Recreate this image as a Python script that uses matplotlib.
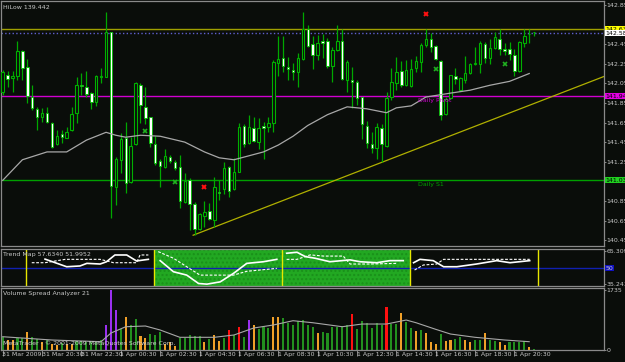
import numpy as np
import matplotlib.pyplot as plt
from matplotlib.transforms import blended_transform_factory

plt.rcParams['font.family'] = ['Liberation Sans Narrow', 'DejaVu Sans']

# ---- data (15 min candles, 31 Mar 2009 18:30 onwards) ----
opens = [141.96, 142.14, 142.10, 142.12, 142.38, 142.22, 141.91, 141.79, 141.71, 141.75,
         141.65, 141.43, 141.53, 141.49, 141.57, 141.75, 142.03, 142.01, 141.95, 141.86,
         142.11, 142.11, 142.57, 140.99, 141.27, 141.49, 141.04, 141.43, 142.03, 141.81,
         141.71, 141.43, 141.26, 141.20, 141.30, 141.25, 141.20, 140.84, 141.06, 140.82,
         140.56, 140.70, 140.75, 140.66, 140.94, 140.97, 141.20, 140.97, 141.15, 141.61,
         141.44, 141.59, 141.45, 141.61, 141.60, 141.65, 142.26, 142.31, 142.22, 142.19,
         142.17, 142.30, 142.60, 142.45, 142.34, 142.48, 142.48, 142.23, 142.39, 142.48,
         142.08, 142.08, 142.06, 141.91, 141.61, 141.43, 141.39, 141.59, 141.41, 141.91,
         142.05, 142.18, 142.03, 142.02, 142.21, 142.27, 142.44, 142.50, 142.43, 142.28,
         141.74, 141.90, 142.12, 141.98, 142.08, 142.16, 142.25, 142.25, 142.45, 142.31,
         142.41, 142.50, 142.40, 142.40, 142.34, 142.18, 142.46, 142.55, 142.57]
highs = [142.19, 142.18, 142.18, 142.48, 142.39, 142.30, 142.03, 141.81, 141.80, 141.81,
         141.66, 141.57, 141.57, 141.60, 141.81, 142.11, 142.16, 142.18, 141.96, 142.13,
         142.21, 142.78, 142.57, 141.30, 141.54, 141.66, 141.50, 142.06, 142.05, 142.01,
         141.71, 141.51, 141.28, 141.38, 141.32, 141.27, 141.32, 141.13, 141.08, 140.84,
         140.73, 140.85, 140.83, 141.09, 141.06, 141.25, 141.21, 141.29, 141.65, 141.63,
         141.73, 141.71, 141.70, 141.66, 141.71, 142.29, 142.53, 142.53, 142.32, 142.26,
         142.36, 142.78, 142.65, 142.53, 142.54, 142.55, 142.51, 142.42, 142.65, 142.60,
         142.29, 142.22, 142.08, 141.91, 141.67, 141.55, 141.65, 141.63, 141.96, 142.21,
         142.32, 142.28, 142.29, 142.30, 142.33, 142.46, 142.60, 142.56, 142.44, 142.29,
         141.91, 142.14, 142.21, 142.11, 142.33, 142.26, 142.42, 142.48, 142.47, 142.50,
         142.57, 142.60, 142.46, 142.47, 142.40, 142.48, 142.60, 142.60, 142.57]
lows = [141.93, 142.01, 141.96, 142.08, 142.08, 141.85, 141.78, 141.57, 141.66, 141.65,
        141.39, 141.42, 141.44, 141.49, 141.56, 141.65, 141.93, 141.91, 141.79, 141.82,
        142.05, 142.11, 140.68, 140.81, 141.13, 140.93, 141.03, 141.42, 141.65, 141.64,
        141.40, 141.22, 140.99, 141.19, 141.24, 141.17, 140.78, 140.83, 140.55, 140.50,
        140.55, 140.58, 140.66, 140.58, 140.86, 140.92, 140.89, 140.96, 141.15, 141.40,
        141.43, 141.45, 141.38, 141.28, 141.55, 141.55, 142.12, 142.17, 142.08, 142.08,
        142.01, 142.29, 142.42, 142.20, 142.29, 142.31, 142.21, 142.06, 142.38, 142.08,
        141.96, 141.80, 141.83, 141.48, 141.39, 141.34, 141.28, 141.25, 141.40, 141.88,
        141.98, 142.01, 142.02, 142.01, 142.17, 142.17, 142.42, 142.37, 142.29, 141.68,
        141.73, 141.89, 142.04, 141.97, 142.05, 142.15, 142.24, 142.16, 142.26, 142.25,
        142.40, 142.34, 142.34, 142.29, 142.12, 142.17, 142.42, 142.46, 142.53]
closes = [142.17, 142.09, 142.12, 142.38, 142.21, 141.92, 141.80, 141.71, 141.75, 141.66,
          141.40, 141.51, 141.50, 141.55, 141.74, 142.03, 142.02, 141.94, 141.86, 142.12,
          142.12, 142.57, 141.00, 141.28, 141.48, 141.03, 141.41, 142.05, 141.83, 141.70,
          141.44, 141.24, 141.21, 141.31, 141.26, 141.19, 140.85, 141.05, 140.82, 140.56,
          140.72, 140.74, 140.67, 140.99, 140.93, 141.19, 140.95, 141.15, 141.60, 141.43,
          141.60, 141.46, 141.59, 141.59, 141.65, 142.27, 142.30, 142.23, 142.20, 142.17,
          142.31, 142.60, 142.43, 142.34, 142.46, 142.46, 142.23, 142.39, 142.48, 142.09,
          142.27, 142.06, 141.90, 141.63, 141.44, 141.39, 141.60, 141.43, 141.90, 142.06,
          142.17, 142.03, 142.19, 142.20, 142.28, 142.44, 142.50, 142.42, 142.30, 141.73,
          141.89, 142.14, 142.09, 142.10, 142.16, 142.25, 142.26, 142.46, 142.31, 142.41,
          142.52, 142.40, 142.38, 142.35, 142.18, 142.47, 142.53, 142.55, 142.57]

# moving average on price (read at some candles)
ma_idx = [0, 4, 9, 13, 17, 21, 23, 25, 28, 32, 37, 41, 44, 47, 50, 53, 56, 59, 62,
          66, 70, 74, 78, 80, 83, 86, 91, 95, 99, 103, 107]
ma_val = [141.06, 141.27, 141.35, 141.35, 141.47, 141.55, 141.52, 141.50, 141.52, 141.51,
          141.45, 141.35, 141.29, 141.27, 141.31, 141.35, 141.42, 141.51, 141.62, 141.73,
          141.81, 141.79, 141.75, 141.80, 141.82, 141.91, 141.95, 141.98, 142.03, 142.07, 142.15]

# horizontal levels
level_prices = [142.60, 142.56, 141.92, 141.06]
level_labels = ['142.63', '142.58', '141.94', '141.03']
level_names = ['', '', 'Daily Pivot', 'Daily S1']

# trend line anchors (candle index, price)
trend_pts = [(38.7, 140.50), (122.2, 142.12)]

# signal markers
red_idx = [41, 86]
red_val = [140.99, 142.76]
green_idx = [29, 35, 88, 102]
green_val = [141.56, 141.04, 142.20, 142.25]

# Trend Map windows
tm_bounds = [4.8, 30.8, 56.8, 82.8, 108.8]
tm_solid_x = [[8.6, 13, 15.7, 17.1, 19.8, 21.1, 22.8, 25.2, 27.2, 28.6, 29.6],
              [32.0, 34.7, 37.4, 39.8, 41.5, 44.2, 46.9, 49.6, 53.0, 55.7],
              [57.7, 59.8, 61.5, 63.5, 66.5, 70.6, 72.6, 76.0, 78.7, 81.4],
              [83.5, 84.8, 87.5, 89.6, 92.3, 96.3, 100.4, 103.1, 107.1]]
tm_solid_v = [[58.2, 51.2, 51.9, 54.3, 53.7, 55.8, 62.0, 62.0, 56.5, 57.4, 58.0],
              [56.8, 46.6, 43.5, 35.8, 35.2, 37.3, 45.1, 54.3, 55.8, 58.0],
              [63.6, 64.5, 60.5, 59.0, 55.8, 57.5, 55.8, 54.9, 56.8, 56.8],
              [54.9, 58.0, 56.8, 51.2, 51.2, 53.7, 56.8, 54.9, 56.8]]
tm_dash_x = [[5.9, 8.6, 12.7, 19.8, 21.8, 22.5, 27.2, 27.9, 29.6],
             [31.6, 34.7, 37.4, 40.1, 46.9, 49.6, 55.7],
             [57.7, 59.8, 62.5, 65.2, 69.2, 70.6, 74.7, 80.1],
             [83.7, 85.5, 88.2, 89.6, 107.1]]
tm_dash_v = [[54.9, 54.9, 58.0, 58.0, 55.8, 54.9, 54.9, 62.0, 62.0],
             [65.1, 59.0, 51.2, 43.5, 43.5, 47.0, 49.7],
             [58.0, 58.0, 62.1, 61.0, 61.0, 53.7, 53.7, 54.3],
             [48.2, 52.8, 53.7, 58.0, 58.0]]

# volume
volumes = [385, 289, 289, 357, 357, 511, 385, 318, 241, 289,
           164, 145, 193, 173, 173, 270, 260, 241, 260, 241,
           289, 723, 1735, 1156, 597, 963, 723, 886, 405, 337,
           463, 434, 530, 173, 222, 125, 337, 337, 434, 405,
           405, 222, 308, 434, 260, 357, 578, 434, 655, 366,
           867, 723, 597, 655, 626, 944, 963, 915, 771, 723,
           848, 867, 723, 655, 501, 520, 501, 674, 655, 694,
           723, 1041, 597, 838, 790, 645, 790, 723, 1233, 751,
           751, 1079, 819, 626, 549, 578, 501, 241, 173, 463,
           260, 289, 308, 385, 289, 241, 289, 289, 482, 289,
           270, 241, 145, 231, 222, 222, 270, 96, 20]
vol_kind = list('googgoggog' 'oogooggggg' 'gpppgoggoo' 'gggooogggg'
                'gogoogrgrg' 'pogggooggg' 'ggggoggggg' 'grggggggrg'
                'goggogooog' 'ooggooggog' 'googgggog')
vol_ma_idx = [0, 10, 20, 22, 25, 29, 32, 36, 43, 47, 51, 55, 59, 63, 69, 73, 78, 82,
              84, 88, 91, 96, 102, 107]
vol_ma_val = [384, 289, 240, 491, 673, 694, 578, 367, 367, 434, 636, 723, 847, 789, 673,
              751, 751, 867, 789, 598, 462, 367, 289, 240]

time_ticks = [0, 8, 16, 24, 32, 40, 48, 56, 64, 72, 80, 88, 96, 104]
time_labels = ['31 Mar 2009', '31 Mar 20:30', '31 Mar 22:30', '1 Apr 00:30', '1 Apr 02:30',
               '1 Apr 04:30', '1 Apr 06:30', '1 Apr 08:30', '1 Apr 10:30', '1 Apr 12:30',
               '1 Apr 14:30', '1 Apr 16:30', '1 Apr 18:30', '1 Apr 20:30']

# ---- styling ----
BG = '#0a0d0a'
FRAME = '#8a8a8a'
TXT = '#c8c8c8'
FS = 4.5

W, H = 625, 362
def rect(x0, y0, x1, y1):
    return [x0 / W, 1 - y1 / H, (x1 - x0) / W, (y1 - y0) / H]

fig = plt.figure(figsize=(6.25, 3.62), dpi=100, facecolor=BG)
ax = fig.add_axes(rect(1, 1, 604, 246))
ax_tm = fig.add_axes(rect(1, 249, 604, 286), sharex=ax)
ax_v = fig.add_axes(rect(1, 288, 604, 350), sharex=ax)

for a in (ax, ax_tm, ax_v):
    a.set_facecolor(BG)
    for s in a.spines.values():
        s.set_color(FRAME)
        s.set_linewidth(0.9)
    a.yaxis.tick_right()
    a.tick_params(axis='y', colors=FRAME, labelcolor=TXT, labelsize=FS, length=1.5, width=0.7, pad=0.5)
    a.tick_params(axis='x', bottom=False, labelbottom=False)

ax.set_xlim(-0.35, 122.2)

# ---- main price panel ----
o, h, l, c = map(np.array, (opens, highs, lows, closes))
idx = np.arange(len(o))
up = c >= o
ax.vlines(idx, l, h, color='#00a800', lw=0.9, zorder=2)
body_lo = np.minimum(o, c)
body_h = np.maximum(np.abs(c - o), 0.008)
ax.bar(idx[up], body_h[up], bottom=body_lo[up], width=0.5, facecolor=BG,
       edgecolor='#00b000', lw=0.8, zorder=3)
ax.bar(idx[~up], body_h[~up], bottom=body_lo[~up], width=0.5, facecolor='white',
       edgecolor='#00c000', lw=0.6, zorder=3)

ax.plot(ma_idx, ma_val, color='#a8a8a8', lw=0.9, zorder=4)

lv_colors = ['#a0a000', '#6060d0', '#d000d0', '#00a000']
lv_styles = ['-', ':', '-', '-']
box_colors = ['#ffff00', 'white', '#e000e0', '#20d020']
ty = blended_transform_factory(ax.transAxes, ax.transData)
for p, lab, nm, col, ls, bc in zip(level_prices, level_labels, level_names,
                                    lv_colors, lv_styles, box_colors):
    ax.axhline(p, color=col, ls=ls, lw=1.0, zorder=1)
    ax.text(1.003, p, lab, transform=ty, fontsize=FS, color='black', va='center', ha='left',
            bbox=dict(boxstyle='square,pad=0.08', fc=bc, ec='none'), zorder=6, clip_on=False)
for p, nm, col in zip(level_prices, level_names, lv_colors):
    if nm:
        ax.text(84.4, p - 0.02, nm, fontsize=FS, color=col, va='top', ha='left', zorder=5)

(tx0, tp0), (tx1, tp1) = trend_pts
ax.plot([tx0, tx1], [tp0, tp1], color='#b0b000', lw=0.9, zorder=1)

ax.plot(red_idx, red_val, ls='none', marker='x', ms=3.5, mew=1.4, color='#ff1010', zorder=5)
ax.plot(green_idx, green_val, ls='none', marker='x', ms=3.5, mew=1.2, color='#20b020', zorder=5)

ax.set_ylim(140.39, 142.89)
ax.set_yticks([142.85, 142.45, 142.25, 142.05, 141.85, 141.65, 141.45, 141.25,
               140.85, 140.65, 140.45])
ax.set_yticklabels(['142.85', '142.45', '142.25', '142.05', '141.85', '141.65', '141.45',
                    '141.25', '140.85', '140.65', '140.45'])
ax.text(0.004, 0.985, 'HiLow 139.442', transform=ax.transAxes, fontsize=FS, color=TXT,
        va='top', ha='left')

# ---- Trend Map panel ----
ax_tm.axvspan(tm_bounds[1], tm_bounds[3], facecolor='#22a822', edgecolor='#1a901a',
              hatch='....', lw=0, zorder=0)
for b in tm_bounds:
    ax_tm.axvline(b, color='#e8e800', lw=1.0, zorder=2)
ax_tm.axhline(50, color='#1020b0', lw=1.0, zorder=1)
for xs, vs in zip(tm_solid_x, tm_solid_v):
    ax_tm.plot(xs, vs, color='white', lw=1.2, zorder=3)
for xs, vs in zip(tm_dash_x, tm_dash_v):
    ax_tm.plot(xs, vs, color='white', lw=0.8, ls=(0, (2.5, 1.5)), zorder=3)
ax_tm.set_ylim(33.5, 67.5)
ax_tm.set_yticks([65.3094, 35.243])
ax_tm.set_yticklabels(['65.3094', '35.243'])
tty = blended_transform_factory(ax_tm.transAxes, ax_tm.transData)
ax_tm.text(1.003, 50, '50', transform=tty, fontsize=FS, color=TXT, va='center', ha='left',
           bbox=dict(boxstyle='square,pad=0.08', fc='#1010c0', ec='none'), clip_on=False)
ax_tm.text(0.004, 0.93, 'Trend Map 57.6340 51.9952', transform=ax_tm.transAxes, fontsize=FS,
           color=TXT, va='top', ha='left', zorder=5)

# ---- Volume panel ----
vcol = {'g': '#22901e', 'o': '#f0a028', 'r': '#ff1010', 'p': '#9a30f0'}
ax_v.bar(idx, volumes, width=0.42, color=[vcol[k] for k in vol_kind], zorder=2)
ax_v.plot(vol_ma_idx, vol_ma_val, color='#a8a8a8', lw=0.8, zorder=3)
ax_v.set_ylim(0, 1793)
ax_v.set_yticks([1735, 0])
ax_v.set_yticklabels(['1735', '0'])
ax_v.text(0.004, 0.95, 'Volume Spread Analyzer 21', transform=ax_v.transAxes, fontsize=FS,
          color=TXT, va='top', ha='left')
ax_v.text(0.004, 0.07, 'MetaTrader - \u00a9 2001-2009 MetaQuotes Software Corp.',
          transform=ax_v.transAxes, fontsize=FS, color='#d0d0d0', va='bottom', ha='left', zorder=5)

ax_v.set_xticks(time_ticks)
ax_v.tick_params(axis='x', bottom=True, labelbottom=False, direction='out', length=4,
                 width=0.7, color=FRAME)
tx = blended_transform_factory(ax_v.transData, ax_v.transAxes)
for t, lab in zip(time_ticks, time_labels):
    ax_v.text(t - 0.1, -0.03, lab, transform=tx, fontsize=FS, color=TXT, va='top', ha='left',
              clip_on=False)

fig.savefig('out.png', dpi=100, facecolor=BG)
